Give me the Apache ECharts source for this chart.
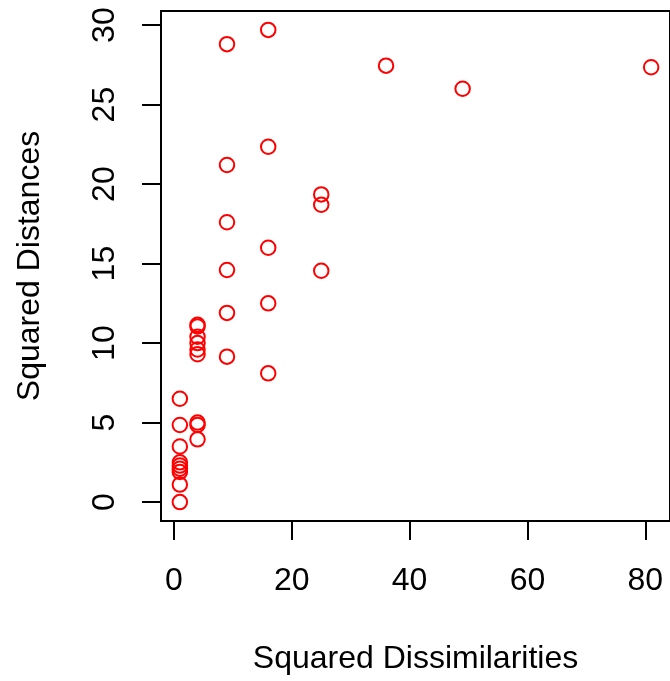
<!DOCTYPE html>
<html>
<head>
<meta charset="utf-8">
<script src="https://cdn.jsdelivr.net/npm/echarts@6/dist/echarts.min.js"></script>
<style>
  html, body { margin: 0; padding: 0; background: #fff; }
  #chart { width: 670px; height: 681px; }
</style>
</head>
<body>
<div id="chart"></div>
<script>
// squared dissimilarities (x) and squared distances (y)
const dissim = [
  1, 1, 1, 1, 1, 1, 1, 1, 1,
  4, 4, 4, 4, 4, 4, 4, 4, 4,
  9, 9, 9, 9, 9, 9,
  16, 16, 16, 16, 16,
  25, 25, 25,
  36, 49, 81
]
const dist = [
  6.5, 4.85, 3.5, 2.5, 2.3, 2.1, 1.9, 1.1, 0.0,
  11.15, 11.05, 10.4, 10.0, 9.6, 9.3, 5.0, 4.85, 3.95,
  28.8, 21.2, 17.6, 14.6, 11.9, 9.15,
  29.7, 22.35, 16.0, 12.5, 8.1,
  19.35, 18.7, 14.55,
  27.45, 26.0, 27.35
]
const xTicks = [0, 20, 40, 60, 80]
const yTicks = [0, 5, 10, 15, 20, 25, 30]

const points = dissim.map((d, i) => [d, dist[i]])

const font = 'Liberation Sans, Arial, Helvetica, sans-serif'
const fs = 32

const chart = echarts.init(document.getElementById('chart'), null, { renderer: 'canvas' })
chart.setOption({
  backgroundColor: '#fff',
  animation: false,
  grid: {
    left: 161, top: 11, width: 511, height: 510,
    show: true, borderColor: '#000', borderWidth: 2, backgroundColor: 'transparent'
  },
  xAxis: {
    type: 'value',
    min: -2.2, max: 84.2,
    name: 'Squared Dissimilarities',
    nameLocation: 'middle',
    nameGap: 122,
    nameTextStyle: { fontFamily: font, fontSize: fs, color: '#000' },
    splitLine: { show: false },
    axisLine: { show: false, onZero: false },
    axisTick: { show: true, inside: false, customValues: xTicks, length: 19, lineStyle: { color: '#000', width: 2 } },
    axisLabel: { customValues: xTicks, margin: 44, fontFamily: font, fontSize: fs, color: '#000' }
  },
  yAxis: {
    type: 'value',
    min: -1.188, max: 30.888,
    name: 'Squared Distances',
    nameLocation: 'middle',
    nameRotate: 90,
    nameGap: 115,
    nameTextStyle: { fontFamily: font, fontSize: fs, color: '#000' },
    splitLine: { show: false },
    axisLine: { show: false, onZero: false },
    axisTick: { show: true, inside: false, customValues: yTicks, length: 19, lineStyle: { color: '#000', width: 2 } },
    axisLabel: { customValues: yTicks, rotate: 90, margin: 40, fontFamily: font, fontSize: fs, color: '#000' }
  },
  series: [{
    type: 'scatter',
    data: points,
    symbol: 'circle',
    symbolSize: 14.5,
    itemStyle: { color: 'rgba(0,0,0,0)', borderColor: '#ff0000', borderWidth: 2, opacity: 1 },
    emphasis: { disabled: true }
  }]
})
</script>
</body>
</html>
